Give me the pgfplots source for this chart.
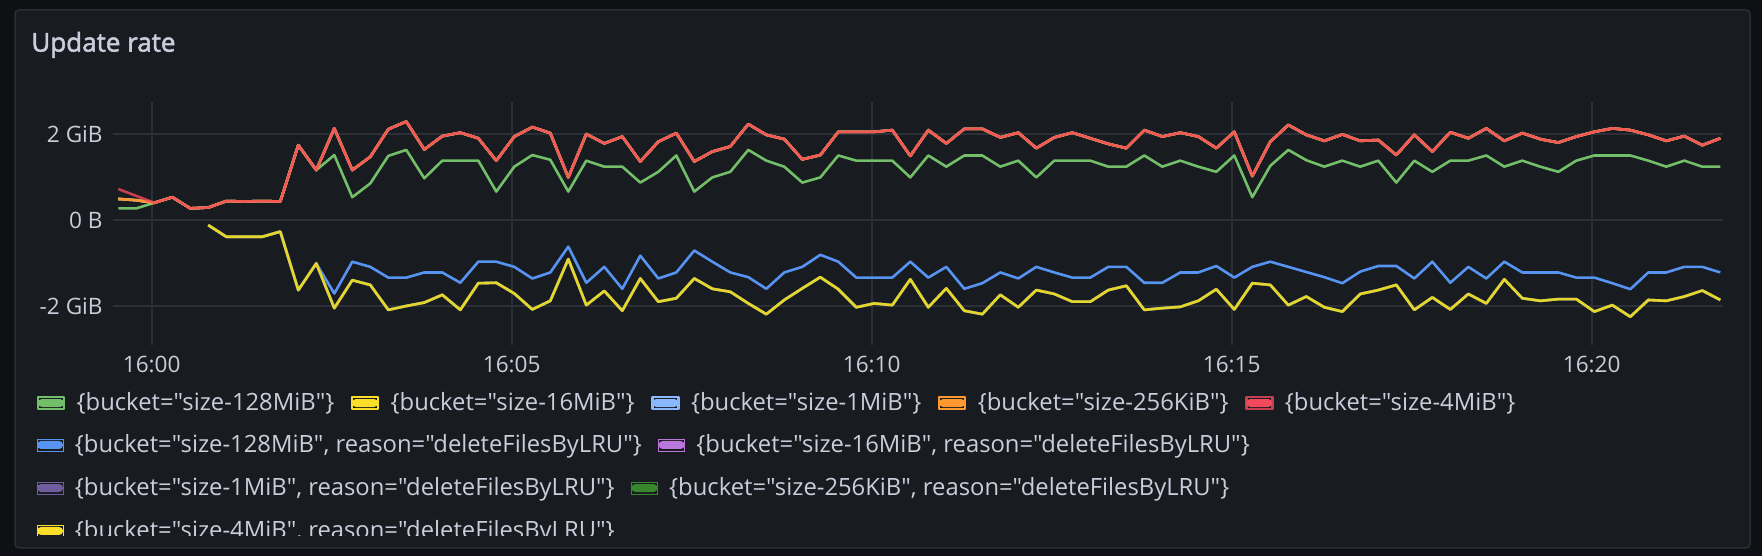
\documentclass[border=0pt]{standalone}
\usepackage{fontspec}
\setmainfont{Open Sans}[Ligatures=TeXOff]
\newfontfamily\titlefont{Open Sans}[Ligatures=TeXOff, FakeBold=2]
\usepackage{pgfplots}
\pgfplotsset{compat=1.18}
\usepackage{pgfplotstable}

\definecolor{outerbg}{HTML}{0F1013}
\definecolor{panelbg}{HTML}{181B1F}
\definecolor{panelborder}{HTML}{2A2D33}
\definecolor{gridc}{HTML}{2C2F35}
\definecolor{txt}{HTML}{CCCCDC}
\definecolor{cGreen}{HTML}{73BF69}
\definecolor{cYellow}{HTML}{FADE2A}
\definecolor{cLBlue}{HTML}{8AB8FF}
\definecolor{cOrange}{HTML}{FF9830}
\definecolor{cRed}{HTML}{F2495C}
\definecolor{cBlue}{HTML}{5794F2}
\definecolor{cPurple}{HTML}{B877D9}
\definecolor{cDPurple}{HTML}{705DA0}
\definecolor{cDGreen}{HTML}{37872D}
\definecolor{cYellowB}{HTML}{FADE2A}

% positive series: R = size-4MiB, O = 16MiB/1MiB/256KiB, G = 128MiB
\pgfplotstableread{
i R O G
0 0.72 0.49 0.27
1 0.56 0.46 0.27
2 0.40 0.40 0.40
3 0.53 0.53 0.53
4 0.27 0.27 0.27
5 0.29 0.29 0.29
6 0.44 0.44 0.44
7 0.43 0.43 0.43
8 0.44 0.44 0.44
9 0.43 0.43 0.43
10 1.74 1.74 1.74
11 1.16 1.16 1.16
12 2.13 2.13 1.51
13 1.16 1.16 0.53
14 1.47 1.47 0.85
15 2.11 2.11 1.49
16 2.29 2.29 1.63
17 1.64 1.64 0.97
18 1.95 1.95 1.38
19 2.03 2.03 1.38
20 1.90 1.90 1.38
21 1.38 1.38 0.66
22 1.94 1.94 1.24
23 2.16 2.16 1.51
24 2.02 2.02 1.40
25 0.99 0.99 0.66
26 2.00 2.00 1.38
27 1.78 1.78 1.24
28 1.94 1.94 1.24
29 1.36 1.36 0.87
30 1.82 1.82 1.12
31 2.02 2.02 1.50
32 1.36 1.36 0.66
33 1.59 1.59 0.99
34 1.71 1.71 1.12
35 2.23 2.23 1.63
36 1.98 1.98 1.38
37 1.88 1.88 1.24
38 1.41 1.41 0.87
39 1.51 1.51 0.99
40 2.05 2.05 1.50
41 2.05 2.05 1.38
42 2.05 2.05 1.38
43 2.09 2.09 1.38
44 1.49 1.49 0.99
45 2.09 2.09 1.50
46 1.78 1.78 1.24
47 2.12 2.12 1.50
48 2.12 2.12 1.50
49 1.92 1.92 1.24
50 2.03 2.03 1.38
51 1.67 1.67 0.99
52 1.92 1.92 1.38
53 2.03 2.03 1.38
54 1.90 1.90 1.38
55 1.77 1.77 1.24
56 1.67 1.67 1.24
57 2.09 2.09 1.50
58 1.94 1.94 1.24
59 2.03 2.03 1.38
60 1.94 1.94 1.24
61 1.67 1.67 1.12
62 2.05 2.05 1.50
63 1.02 1.02 0.53
64 1.82 1.82 1.26
65 2.21 2.21 1.63
66 1.98 1.98 1.39
67 1.84 1.84 1.24
68 1.99 1.99 1.38
69 1.84 1.84 1.24
70 1.86 1.86 1.38
71 1.51 1.51 0.87
72 1.98 1.98 1.38
73 1.59 1.59 1.12
74 2.04 2.04 1.38
75 1.90 1.90 1.38
76 2.13 2.13 1.50
77 1.84 1.84 1.24
78 2.02 2.02 1.38
79 1.88 1.88 1.24
80 1.80 1.80 1.12
81 1.94 1.94 1.38
82 2.05 2.05 1.50
83 2.13 2.13 1.50
84 2.09 2.09 1.50
85 1.98 1.98 1.38
86 1.84 1.84 1.24
87 1.95 1.95 1.38
88 1.74 1.74 1.24
89 1.90 1.90 1.24
}\postab

% negative series: B = 128MiB deleteFilesByLRU, Y = 16MiB/1MiB/256KiB/4MiB deleteFilesByLRU
\pgfplotstableread{
i B Y
5 -0.12 -0.12
6 -0.39 -0.39
7 -0.39 -0.39
8 -0.39 -0.39
9 -0.27 -0.27
10 -1.63 -1.63
11 -1.01 -1.01
12 -1.71 -2.05
13 -0.97 -1.40
14 -1.09 -1.51
15 -1.34 -2.09
16 -1.34 -2.00
17 -1.22 -1.92
18 -1.22 -1.74
19 -1.46 -2.09
20 -0.97 -1.47
21 -0.97 -1.46
22 -1.09 -1.71
23 -1.36 -2.08
24 -1.22 -1.88
25 -0.62 -0.91
26 -1.46 -1.98
27 -1.09 -1.65
28 -1.60 -2.11
29 -0.83 -1.36
30 -1.36 -1.90
31 -1.22 -1.82
32 -0.71 -1.36
33 -0.97 -1.60
34 -1.22 -1.67
35 -1.33 -1.94
36 -1.60 -2.19
37 -1.22 -1.86
38 -1.09 -1.59
39 -0.81 -1.33
40 -0.97 -1.61
41 -1.34 -2.03
42 -1.34 -1.94
43 -1.34 -1.98
44 -0.97 -1.38
45 -1.34 -2.03
46 -1.09 -1.59
47 -1.60 -2.11
48 -1.47 -2.19
49 -1.22 -1.74
50 -1.36 -2.03
51 -1.09 -1.63
52 -1.22 -1.72
53 -1.34 -1.90
54 -1.34 -1.90
55 -1.09 -1.63
56 -1.09 -1.53
57 -1.46 -2.09
58 -1.46 -2.05
59 -1.22 -2.02
60 -1.22 -1.88
61 -1.07 -1.61
62 -1.34 -2.08
63 -1.09 -1.47
64 -0.97 -1.51
65 -1.09 -1.98
66 -1.21 -1.78
67 -1.33 -2.03
68 -1.47 -2.13
69 -1.20 -1.72
70 -1.07 -1.63
71 -1.07 -1.51
72 -1.36 -2.09
73 -0.97 -1.80
74 -1.46 -2.08
75 -1.09 -1.72
76 -1.36 -1.94
77 -0.97 -1.38
78 -1.22 -1.82
79 -1.22 -1.88
80 -1.22 -1.84
81 -1.34 -1.84
82 -1.34 -2.13
83 -1.47 -1.98
84 -1.61 -2.25
85 -1.22 -1.86
86 -1.22 -1.88
87 -1.09 -1.78
88 -1.09 -1.64
89 -1.22 -1.86
}\negtab

\pgfplotsset{
  geom/.style={at={(56.5pt,105.5pt)}, anchor=south west, width=805pt, height=121.5pt, scale only axis},
  legrow/.style={
    legend columns=-1,
    legend image code/.code={
      \path (0pt,-3pt) rectangle (13pt,3pt);
      \fill[##1, draw=none, rounded corners=2pt] (0pt,-2pt) rectangle (13pt,2pt);},
    legend style={at={(-0.0474,#1)}, anchor=west, draw=none, fill=none,
      inner sep=0pt, outer sep=0pt, text=txt, font=\fontsize{11.9}{14}\selectfont,
      nodes={inner sep=0pt, text=txt},
      /tikz/every odd column/.append style={column sep=5.7pt},
      /tikz/every even column/.append style={column sep=8.2pt}},
    legend cell align=left},
}

\begin{document}
\begin{tikzpicture}
\fill[outerbg] (0,0) rectangle (881pt,278pt);
\fill[panelbg] (7.5pt,4pt) rectangle (875pt,273pt);
\node[anchor=base west, text=txt, font=\titlefont\fontsize{13}{15}\selectfont, inner sep=0pt] at (15.5pt,252.2pt) {Update rate};

\begin{axis}[geom,
  xmin=-0.294, xmax=89.15, ymin=-2.907, ymax=2.744,
  axis line style={draw=none}, tick style={draw=none}, major tick length=0pt,
  xtick={1.856,21.856,41.856,61.856,81.856},
  xticklabels={16:00,16:05,16:10,16:15,16:20},
  ytick={-2,0,2}, yticklabels={-2 GiB,0 B,2 GiB},
  grid=major, major grid style={draw=gridc, line width=0.8pt},
  tick label style={text=txt, font=\fontsize{11.3}{13}\selectfont},
  yticklabel style={inner sep=0pt, anchor=east, xshift=-5pt},
  xticklabel style={inner sep=0pt, anchor=north, yshift=-5.5pt},
  every axis plot/.append style={line width=1.3pt, line join=round},
  legrow=-0.2387]
\addplot[cGreen] table[x=i,y=G]{\postab};
\addlegendentry{\{bucket="size-128MiB"\}}
\addplot[cYellow] table[x=i,y=O]{\postab};
\addlegendentry{\{bucket="size-16MiB"\}}
\addplot[cLBlue] table[x=i,y=O]{\postab};
\addlegendentry{\{bucket="size-1MiB"\}}
\addplot[cOrange] table[x=i,y=O]{\postab};
\addlegendentry{\{bucket="size-256KiB"\}}
\addplot[cRed, draw opacity=0.8] table[x=i,y=R]{\postab};
\addlegendentry{\{bucket="size-4MiB"\}}
\addplot[cBlue, forget plot] table[x=i,y=B]{\negtab};
\addplot[cPurple, forget plot] table[x=i,y=Y]{\negtab};
\addplot[cDPurple, forget plot] table[x=i,y=Y]{\negtab};
\addplot[cDGreen, forget plot] table[x=i,y=Y]{\negtab};
\addplot[cYellowB, draw opacity=0.9, forget plot] table[x=i,y=Y]{\negtab};
\end{axis}

\begin{axis}[geom, hide axis, xmin=0, xmax=1, ymin=0, ymax=1, legrow=-0.4115]
\addlegendimage{cBlue}
\addlegendentry{\{bucket="size-128MiB", reason="deleteFilesByLRU"\}}
\addlegendimage{cPurple}
\addlegendentry{\{bucket="size-16MiB", reason="deleteFilesByLRU"\}}
\end{axis}

\begin{axis}[geom, hide axis, xmin=0, xmax=1, ymin=0, ymax=1, legrow=-0.5885]
\addlegendimage{cDPurple}
\addlegendentry{\{bucket="size-1MiB", reason="deleteFilesByLRU"\}}
\addlegendimage{cDGreen}
\addlegendentry{\{bucket="size-256KiB", reason="deleteFilesByLRU"\}}
\end{axis}

\begin{axis}[geom, hide axis, xmin=0, xmax=1, ymin=0, ymax=1, legrow=-0.7654]
\addlegendimage{cYellowB}
\addlegendentry{\{bucket="size-4MiB", reason="deleteFilesByLRU"\}}
\end{axis}

\fill[panelbg] (8pt,4.4pt) rectangle (874.6pt,10.2pt);
\draw[panelborder, line width=0.75pt, rounded corners=2pt] (7.5pt,4pt) rectangle (875pt,273pt);
\end{tikzpicture}
\end{document}
